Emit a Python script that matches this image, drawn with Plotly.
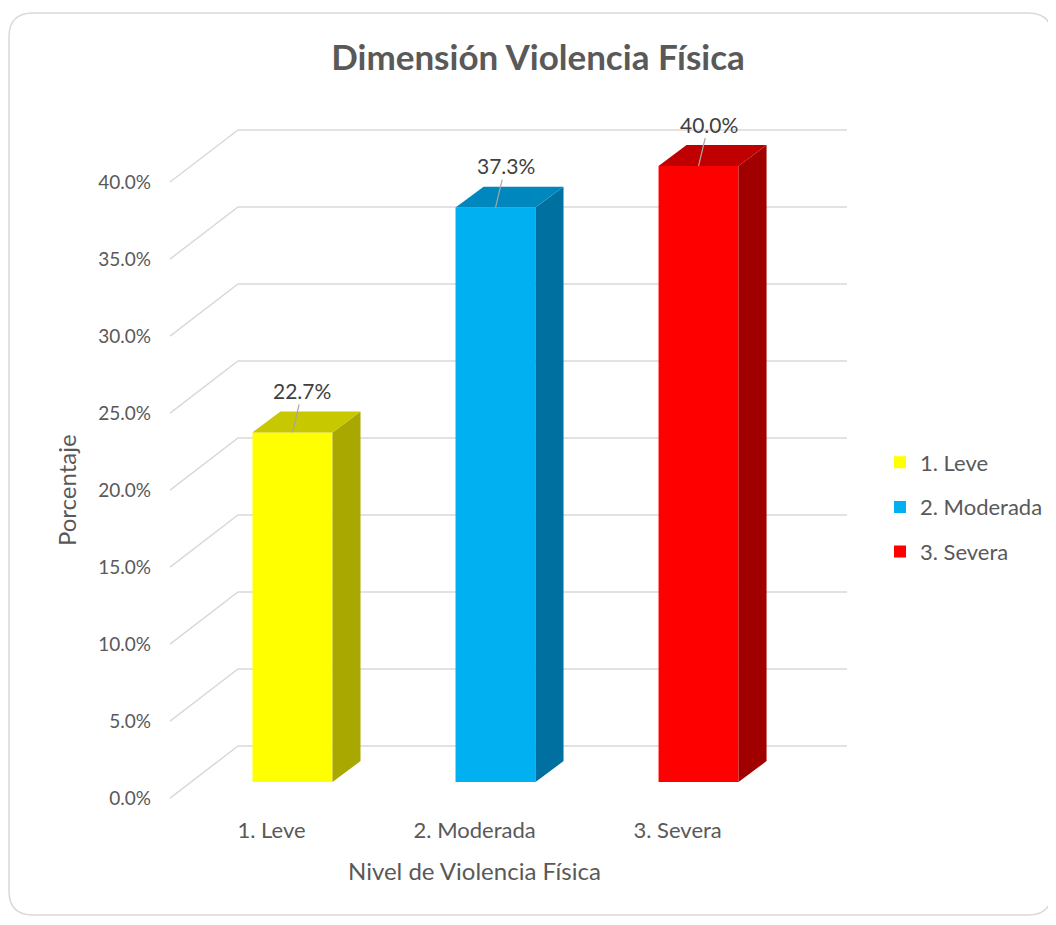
import plotly.graph_objects as go

# datos
categorias = ["1. Leve", "2. Moderada", "3. Severa"]
porcentajes = [22.7, 37.3, 40.0]
ticks_y = [0, 5, 10, 15, 20, 25, 30, 35, 40]

col_frente = ["#FFFF00", "#00B0F0", "#FF0000"]
col_techo = ["#C8C800", "#0088BE", "#C00000"]
col_lado = ["#A8A800", "#0070A0", "#A00000"]

GRIS = "#595959"
FUENTE = "Lato, 'Open Sans', sans-serif"

# pseudo-3D geometry (in axis units: x = category step, y = percent)
ancho = 0.394          # bar width
prof_x, prof_y = 0.138, 1.36     # depth of a bar
pared_x, pared_y = 0.2315, 2.34  # bar front -> back wall
frente_x, frente_y = -0.103, -1.04  # bar front -> label plane
piso = (-0.5, 2.5)     # floor extent at bar front plane

# plot area in screen pixels; page body adds an 8px margin
OFF = 8
L, R, T, B = 152, 850, 89, 815
xr = [-0.692, 2.746]
yr = [-2.14, 45]

fig = go.Figure()

for i, (cat, v) in enumerate(zip(categorias, porcentajes)):
    w = ancho / 2
    # front face
    fig.add_trace(go.Bar(x=[i], y=[v], width=ancho, name=cat,
                         marker=dict(color=col_frente[i], line=dict(width=0)),
                         legendgroup=cat, hoverinfo="skip"))
    # right side face
    fig.add_trace(go.Scatter(
        x=[i + w, i + w + prof_x, i + w + prof_x, i + w, i + w],
        y=[0, prof_y, v + prof_y, v, 0],
        mode="lines", line=dict(width=0), fill="toself", fillcolor=col_lado[i],
        showlegend=False, hoverinfo="skip"))
    # top face
    fig.add_trace(go.Scatter(
        x=[i - w, i - w + prof_x, i + w + prof_x, i + w, i - w],
        y=[v, v + prof_y, v + prof_y, v, v],
        mode="lines", line=dict(width=0), fill="toself", fillcolor=col_techo[i],
        showlegend=False, hoverinfo="skip"))
    # data label with leader line
    fig.add_annotation(x=i, y=v, xref="x", yref="y", text=f"{v:.1f}%",
                       showarrow=True, arrowhead=0, arrowwidth=1.2, arrowcolor="#A6A6A6",
                       ax=10, ay=-42, font=dict(size=21, color="#404040", family=FUENTE))

# gridlines: floor diagonal + back wall horizontal
for t in ticks_y:
    x0, y0 = piso[0] + frente_x, t + frente_y
    x1, y1 = piso[0] + pared_x, t + pared_y
    x2 = piso[1] + pared_x
    fig.add_shape(type="path", xref="x", yref="y", layer="below",
                  path=f"M{x0},{y0} L{x1},{y1} L{x2},{y1}",
                  line=dict(color="#D9D9D9", width=1.5))

# rounded border of the chart area (pixel box -> paper coords)
def px(xp):
    return (xp - L) / (R - L)

def py(yp):
    return (B - yp) / (B - T)

bx0, by0, bx1, by1, rad = 9, 13, 1052, 915, 24
borde = (f"M{px(bx0 + rad)},{py(by0)} L{px(bx1 - rad)},{py(by0)} "
         f"Q{px(bx1)},{py(by0)} {px(bx1)},{py(by0 + rad)} L{px(bx1)},{py(by1 - rad)} "
         f"Q{px(bx1)},{py(by1)} {px(bx1 - rad)},{py(by1)} L{px(bx0 + rad)},{py(by1)} "
         f"Q{px(bx0)},{py(by1)} {px(bx0)},{py(by1 - rad)} L{px(bx0)},{py(by0 + rad)} "
         f"Q{px(bx0)},{py(by0)} {px(bx0 + rad)},{py(by0)} Z")
fig.add_shape(type="path", xref="paper", yref="paper", path=borde, layer="below",
              line=dict(color="#D9D9D9", width=1.5))

# axis titles
fig.add_annotation(text="Nivel de Violencia Física", xref="x", yref="paper",
                   x=1 + frente_x, y=py(870), showarrow=False,
                   xanchor="center", yanchor="middle",
                   font=dict(size=24, color=GRIS, family=FUENTE))
fig.add_annotation(text="Porcentaje", xref="paper", yref="y",
                   x=px(66), y=20 + frente_y, textangle=-90, showarrow=False,
                   xanchor="center", yanchor="middle",
                   font=dict(size=24, color=GRIS, family=FUENTE))

fig.update_layout(
    width=1056, height=925,
    margin=dict(l=L - OFF, r=1056 - R + OFF, t=T - OFF, b=925 - B + OFF),
    paper_bgcolor="white", plot_bgcolor="white",
    barmode="overlay",
    title=dict(text="<b>Dimensión Violencia Física</b>", x=(538 - OFF) / 1056,
               xanchor="center", y=1 - (58 - OFF) / 925, yanchor="middle",
               yref="container",
               font=dict(size=35, color=GRIS, family=FUENTE)),
    xaxis=dict(range=xr, showgrid=False, zeroline=False, showline=False,
               tickvals=[i + frente_x for i in range(len(categorias))], ticktext=categorias,
               tickfont=dict(size=22, color=GRIS, family=FUENTE)),
    yaxis=dict(range=yr, showgrid=False, zeroline=False, showline=False,
               tickvals=[t + frente_y for t in ticks_y],
               ticktext=[f"{t:.1f}%" for t in ticks_y],
               tickfont=dict(size=19, color=GRIS, family=FUENTE)),
    legend=dict(x=px(880), y=py(507), xanchor="left", yanchor="middle",
                font=dict(size=22, color=GRIS, family=FUENTE),
                traceorder="grouped", tracegroupgap=13),
    showlegend=True,
)

fig.write_html("out.html")
